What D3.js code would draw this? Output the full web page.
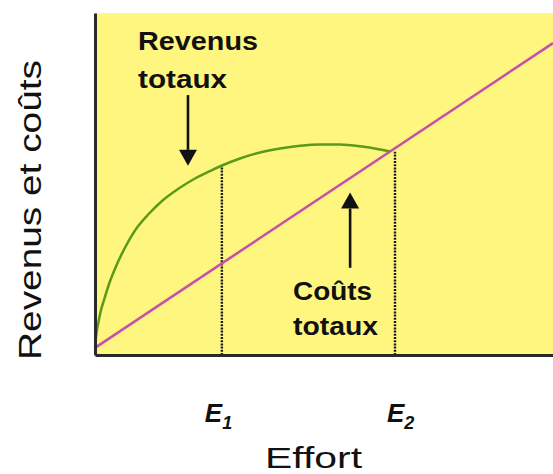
<!DOCTYPE html>
<html>
<head>
<meta charset="utf-8">
<script src="https://cdn.jsdelivr.net/npm/d3@7"></script>
<style>
  html, body { margin: 0; padding: 0; background: #fff; }
  svg { display: block; }
  text { font-family: "Liberation Sans", Arial, sans-serif; fill: #111; }
</style>
</head>
<body>
<svg id="chart" width="553" height="474"></svg>
<script>
// Effort (0–100) against revenue / cost (0–100), arbitrary units
const effort = [0, 0.33, 0.76, 1.31, 1.97, 2.99, 4.43, 6.62, 8.80, 11.72, 14.63, 18.28,
                21.83, 25.11, 27.73, 31.66, 36.03, 40.39, 44.76, 49.13, 53.49, 57.86, 62.23, 64.41];
const revenue = [2.05, 6.43, 9.65, 13.16, 16.08, 20.47, 25.44, 31.58, 36.55, 41.23, 45.03, 48.68,
                 51.61, 53.80, 55.41, 57.46, 59.21, 60.38, 61.17, 61.55, 61.52, 61.02, 60.09, 59.50];
const costEffort = [0, 100];
const cost = [2.1, 91.2];
const markers = ["1", "2"];
const markerEffort = [27.7, 65.5];
const markerTop = [55.4, 59.4];

const svg = d3.select("#chart");
const x = d3.scaleLinear().domain([0, 100]).range([95, 553]);
const y = d3.scaleLinear().domain([0, 100]).range([355, 13]);

// plot background
svg.append("rect")
  .attr("x", x(0)).attr("y", y(100))
  .attr("width", x(100) - x(0)).attr("height", y(0) - y(100))
  .attr("fill", "#fff680");

// dotted guides at E1 and E2
svg.selectAll("line.guide")
  .data(markers.map((m, i) => ({ m, e: markerEffort[i], top: markerTop[i] })))
  .join("line")
  .attr("class", "guide")
  .attr("x1", d => x(d.e)).attr("x2", d => x(d.e))
  .attr("y1", y(0)).attr("y2", d => y(d.top))
  .attr("stroke", "#1a1a1a").attr("stroke-width", 2.4)
  .attr("stroke-dasharray", "2,1.2");

// total costs
const line = d3.line().x(d => x(d[0])).y(d => y(d[1]));
svg.append("path")
  .datum(costEffort.map((e, i) => [e, cost[i]]))
  .attr("d", line)
  .attr("fill", "none").attr("stroke", "#c552a8").attr("stroke-width", 2.6);

// total revenue
svg.append("path")
  .datum(effort.map((e, i) => [e, revenue[i]]))
  .attr("d", line.curve(d3.curveMonotoneX))
  .attr("fill", "none").attr("stroke", "#5b9a18").attr("stroke-width", 2.5);

// axes (no ticks)
svg.append("g")
  .attr("transform", `translate(${x(0)},0)`)
  .call(d3.axisLeft(y).tickValues([]).tickSizeOuter(0))
  .select(".domain").attr("stroke", "#2a2a2a").attr("stroke-width", 3);
svg.append("g")
  .attr("transform", `translate(0,${y(0)})`)
  .call(d3.axisBottom(x).tickValues([]).tickSizeOuter(0))
  .select(".domain").attr("stroke", "#2a2a2a").attr("stroke-width", 3);

// arrows
function arrow(xv, fromV, toV) {
  const x0 = x(xv), y0 = y(fromV), y1 = y(toV);
  const dir = y1 > y0 ? 1 : -1;
  const head = 16;
  svg.append("line")
    .attr("x1", x0).attr("x2", x0)
    .attr("y1", y0).attr("y2", y1 - dir * head)
    .attr("stroke", "#111").attr("stroke-width", 2.6);
  svg.append("path")
    .attr("d", `M${x0 - 9},${y1 - dir * head} L${x0 + 9},${y1 - dir * head} L${x0},${y1} Z`)
    .attr("fill", "#111");
}
arrow(20.3, 76, 55.3);
arrow(55.7, 25.5, 47.5);

// annotations
function label(txt, px, py, size, width, weight) {
  svg.append("text")
    .attr("x", px).attr("y", py)
    .attr("font-size", size).attr("font-weight", weight)
    .attr("textLength", width).attr("lengthAdjust", "spacingAndGlyphs")
    .text(txt);
}
label("Revenus", 138, 50, 25, 120, "bold");
label("totaux", 138, 88, 25, 89, "bold");
label("Coûts", 293, 300, 25, 79, "bold");
label("totaux", 293, 335, 25, 85, "bold");

// E1 / E2 markers under the axis
const markerShift = [-17, -8];
markers.forEach((m, i) => {
  const t = svg.append("text")
    .attr("x", x(markerEffort[i]) + markerShift[i]).attr("y", 422)
    .attr("font-size", 26).attr("font-weight", "bold").attr("font-style", "italic");
  t.append("tspan").text("E");
  t.append("tspan").attr("font-size", 18).attr("dy", 7).text(m);
});

// axis titles
svg.append("text")
  .attr("x", 265).attr("y", 468)
  .attr("font-size", 30)
  .attr("textLength", 97).attr("lengthAdjust", "spacingAndGlyphs")
  .text("Effort");
svg.append("text")
  .attr("transform", "translate(41,360) rotate(-90)")
  .attr("font-size", 31)
  .attr("textLength", 300).attr("lengthAdjust", "spacingAndGlyphs")
  .text("Revenus et coûts");
</script>
</body>
</html>
